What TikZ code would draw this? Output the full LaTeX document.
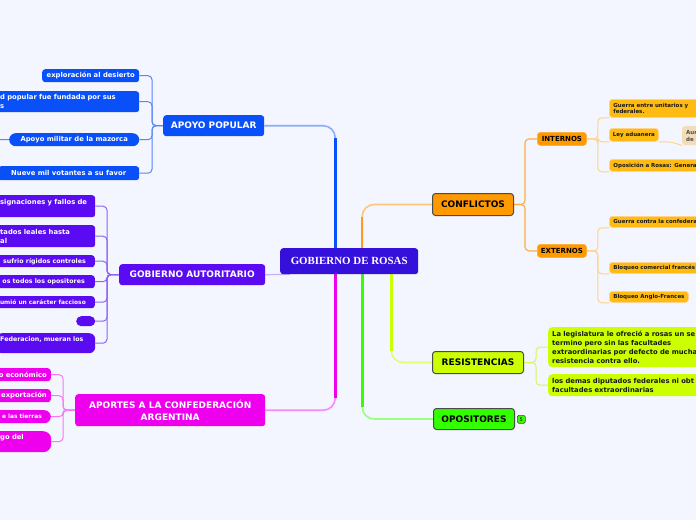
\documentclass[tikz,border=0pt]{standalone}
\usepackage{fontspec}
\setmainfont{DejaVu Sans}
\newfontfamily\serifb{Liberation Serif}
\usetikzlibrary{calc}
\pgfdeclarelayer{back}
\pgfdeclarelayer{lines}
\pgfsetlayers{back,lines,main}
\definecolor{cBg}{HTML}{F3F6FE}
\definecolor{cRoot}{HTML}{3510DB}
\definecolor{cBlue}{HTML}{0A50F8}
\definecolor{cPurple}{HTML}{5B0BF2}
\definecolor{cMag}{HTML}{EE00EE}
\definecolor{cOrange}{HTML}{FF9900}
\definecolor{cOchild}{HTML}{FFBB11}
\definecolor{cLime}{HTML}{CCFF00}
\definecolor{cGreen}{HTML}{33FF00}
\definecolor{cBeige}{HTML}{F2DDB8}
\definecolor{cDark}{HTML}{4A4A4A}
\definecolor{blueL}{HTML}{8EADF9}
\definecolor{orangeL}{HTML}{FFC57A}
\definecolor{orangeS}{HTML}{FF9A1A}
\definecolor{magL}{HTML}{F58CF5}
\definecolor{greenL}{HTML}{99FF80}
\definecolor{limeL}{HTML}{E0FF70}
\definecolor{purpleL}{HTML}{C3B0F8}
\definecolor{blueBr}{HTML}{5A85F8}
\definecolor{purpleBr}{HTML}{8F63F6}
\definecolor{magBr}{HTML}{F27AF2}
\definecolor{orBr}{HTML}{FFAE40}
\definecolor{ochBr}{HTML}{FFD38A}
\definecolor{limeBr}{HTML}{D6F75A}
\newcommand\fmain{\bfseries\fontsize{9}{12}\selectfont}
\newcommand\fsmall{\bfseries\fontsize{6.8}{9}\selectfont}
\newcommand\fsmaller{\bfseries\fontsize{6.3}{9}\selectfont}
\newcommand\fsmallest{\bfseries\fontsize{5.9}{9}\selectfont}
\newcommand\fsub{\bfseries\fontsize{7}{9}\selectfont}
\newcommand\ftiny{\bfseries\fontsize{5.5}{6.8}\selectfont}
\begin{document}
\begin{tikzpicture}[x=1pt,y=-1pt,
  box/.style={inner sep=0, anchor=north west, rounded corners=3},
  rootbox/.style={box, fill=cRoot, text=white, font=\serifb\bfseries\fontsize{10.9}{13}\selectfont},
  bluemain/.style={box, fill=cBlue, text=white, font=\fmain},
  purplemain/.style={box, fill=cPurple, text=white, font=\fmain},
  magmain/.style={box, fill=cMag, text=white, font=\fmain},
  darkmain/.style={box, draw=cDark, line width=1, text=black, font=\fmain},
  bchild/.style={box, fill=cBlue, text=white, font=\fsmall},
  pchild/.style={box, fill=cPurple, text=white, font=\fsmall},
  mchild/.style={box, fill=cMag, text=white, font=\fsmall},
  osub/.style={box, fill=cOrange, draw=orBr, line width=.8, text=black, font=\fsub},
  ochild/.style={box, fill=cOchild, draw=ochBr, line width=.8, text=black!90, font=\ftiny},
  lchild/.style={box, fill=cLime, text=black!90, font=\fsmall, rounded corners=4},
  brline/.style={line width=1, rounded corners=4},
  mainL/.style={line width=1.6, rounded corners=12},
  mainS/.style={line width=2.6},
]
\begin{pgfonlayer}{back}
\fill[cBg] (0,0) rectangle (696,520);
\end{pgfonlayer}
\useasboundingbox (0,0) rectangle (696,520);

% central and main branches
\node[rootbox, minimum width=138, minimum height=26] (root) at (280,248) {GOBIERNO DE ROSAS};
\node[bluemain, minimum width=101, minimum height=21] (apoyo) at (163,115) {APOYO POPULAR};
\node[purplemain, minimum width=146, minimum height=21] (autor) at (119,264) {GOBIERNO AUTORITARIO};
\node[magmain, minimum width=190, minimum height=32, align=center] (aportes) at (75,394) {APORTES A LA CONFEDERACIÓN\\ARGENTINA};
\node[darkmain, fill=cOrange, minimum width=81, minimum height=22] (confl) at (432,193) {CONFLICTOS};
\node[darkmain, fill=cLime, minimum width=91, minimum height=22] (resist) at (432,351) {RESISTENCIAS};
\node[darkmain, fill=cGreen, minimum width=81, minimum height=21] (oposit) at (433,408) {OPOSITORES};
\node[box, fill=cGreen, draw=cDark, line width=.6, rounded corners=1.5, minimum width=8, minimum height=8, font=\fontsize{5}{6}\selectfont] (badge) at (517,415) {5};

% APOYO POPULAR children
\node[bchild, minimum width=97, minimum height=13] (a1) at (42,69) {exploración al desierto};
\node[bchild, inner xsep=8, text width=131, align=left, minimum height=21] (a2) at (-8,91) {d popular fue fundada por sus\\s};
\node[bchild, rounded corners=6.5, minimum width=130, minimum height=13] (a3) at (9,133) {Apoyo militar de la mazorca};
\node[bchild, minimum width=141, minimum height=14] (a4) at (-2,166) {Nueve mil votantes a su favor};
\coordinate (a3out) at (-6,139.5);

% GOBIERNO AUTORITARIO children
\node[pchild, inner xsep=8, text width=87, align=left, minimum height=22] (g1) at (-8,195) {signaciones y fallos de\\\mbox{}};
\node[pchild, inner xsep=8, text width=87, align=left, minimum height=22] (g2) at (-8,225) {tados leales hasta\\al};
\node[pchild, font=\fsmaller, anchor=north east, inner xsep=9, minimum height=12] (g3) at (95,255) {sufrio rígidos controles};
\node[pchild, font=\fsmaller, anchor=north east, inner xsep=10, minimum height=13] (g4) at (95,275) {os todos los opositores};
\node[pchild, font=\fsmallest, anchor=north east, inner xsep=9, minimum height=12] (g5) at (95,296) {umió un carácter faccioso};
\node[pchild, rounded corners=5, minimum width=19, minimum height=10] (g6) at (76,316) {};
\node[pchild, font=\fsmaller, inner xsep=4, text width=91, align=left, minimum height=20, rounded corners=6] (g7) at (-4,333) {Federacion, mueran los\\\mbox{}};

% APORTES children
\node[mchild, anchor=north east, inner xsep=4, minimum height=13] (p1) at (51,368) {o económico};
\node[mchild, anchor=north east, inner xsep=4, minimum height=13] (p2) at (51,389) {exportación};
\node[mchild, font=\fsmallest, anchor=north east, inner xsep=9, minimum height=13, rounded corners=6.5] (p3) at (51,410) {e las tierras};
\node[mchild, inner xsep=8, text width=43, align=left, minimum height=21, rounded corners=8] (p4) at (-8,431) {go del\\\mbox{}};

% CONFLICTOS
\node[osub, minimum width=49, minimum height=13] (intern) at (537,132) {INTERNOS};
\node[osub, minimum width=49, minimum height=13] (extern) at (537,244) {EXTERNOS};
\node[ochild, inner xsep=4, text width=100, align=left, minimum height=18] (i1) at (609,99) {Guerra entre unitarios y\\federales.};
\node[ochild, minimum width=49, minimum height=13] (i2) at (609,128) {Ley aduanera};
\node[ochild, inner xsep=4, text width=100, align=left, minimum height=12] (i3) at (609,159) {Oposición a Rosas: Genera};
\node[box, fill=cBeige, text=black!70, font=\ftiny, inner xsep=4, text width=30, align=left, minimum height=19] (i4) at (682,126) {Aum\\de l};
\node[ochild, inner xsep=4, text width=100, align=left, minimum height=11] (e1) at (609,216) {Guerra contra la confedera};
\node[ochild, inner xsep=4, text width=100, align=left, minimum height=11] (e2) at (609,262) {Bloqueo comercial francés};
\node[ochild, minimum width=79, minimum height=11] (e3) at (609,291) {Bloqueo Anglo-Frances};

% RESISTENCIAS children
\node[lchild, inner xsep=4, text width=200, align=left, minimum height=40] (r1) at (548,327) {La legislatura le ofreció a rosas un se\\termino pero sin las facultades\\extraordinarias por defecto de mucha\\resistencia contra ello.};
\node[lchild, inner xsep=4, text width=200, align=left, minimum height=22] (r2) at (548,374) {los demas diputados federales ni obt\\facultades extraordinarias};

\begin{pgfonlayer}{lines}
% main branches
\draw[mainL, blueL] ($(root.north)+(-14,0)$) |- (apoyo.east);
\draw[mainS, cBlue] ($(root.north)+(-14,0)$) -- ($(root.north |- apoyo.east)+(-14,12)$);
\draw[mainL, orangeL] ($(root.north)+(13,0)$) |- (confl.west);
\draw[mainS, orangeS, line width=2] ($(root.north)+(13,0)$) -- ($(root.north |- confl.west)+(13,12)$);
\draw[mainL, magL] ($(root.south)+(-14,0)$) |- (aportes.east);
\draw[mainS, cMag] ($(root.south)+(-14,0)$) -- ($(root.south |- aportes.east)+(-14,-12)$);
\draw[mainL, greenL] ($(root.south)+(13,0)$) |- (oposit.west);
\draw[mainS, cGreen] ($(root.south)+(13,0)$) -- ($(root.south |- oposit.west)+(13,-12)$);
\draw[mainL, limeL] ($(root.south)+(42,0)$) |- (resist.west);
\draw[mainS, cLime] ($(root.south)+(42,0)$) -- ($(root.south |- resist.west)+(42,-12)$);
\draw[line width=1.2, purpleL] ($(root.south west)+(10,0)$) -- (autor.east);
% brackets
\foreach \c in {a1,a2,a3,a4} \draw[brline, blueBr] (apoyo.west) -- ++(-11,0) |- (\c.east);
\draw[brline, blueBr] (a3.west) -- (a3out);
\foreach \c in {g1,g2,g3,g4,g5,g6,g7} \draw[brline, purpleBr] (autor.west) -- ++(-12,0) |- (\c.east);
\foreach \c in {p1,p2,p3,p4} \draw[brline, magBr] (aportes.west) -- ++(-12,0) |- (\c.east);
\foreach \c in {intern,extern} \draw[brline, orBr, line width=1.2] (confl.east) -- ++(11,0) |- (\c.west);
\foreach \c in {i1,i2,i3} \draw[brline, ochBr] (intern.east) -- ++(11,0) |- (\c.south west);
\foreach \c in {e1,e2,e3} \draw[brline, ochBr] (extern.east) -- ++(11,0) |- (\c.south west);
\draw[brline, ochBr] (i2.south east) -- ++(12,0) -- (i4.south west);
\foreach \c in {r1,r2} \draw[brline, limeBr] (resist.east) -- ++(12,0) |- (\c.west);
\end{pgfonlayer}
\end{tikzpicture}
\end{document}
